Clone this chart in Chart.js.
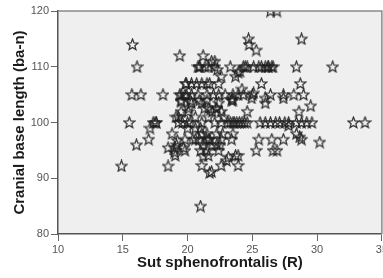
<!DOCTYPE html>
<html>
<head>
<meta charset="utf-8">
<script src="https://cdn.jsdelivr.net/npm/chart.js@4.4.1/dist/chart.umd.min.js"></script>
<style>
  html, body { margin: 0; padding: 0; background: #fff; overflow: hidden; }
  #wrap { width: 383px; height: 278px; overflow: hidden; }
</style>
</head>
<body>
<div id="wrap"><canvas id="Chart" width="390" height="278"></canvas></div>
<script>
// Sut sphenofrontalis (R) vs cranial base length (ba-n)
var sutR = [
  14.9, 15.75, 16.1, 15.7, 16.4, 15.5, 16.05, 17.0, 17.1, 17.35, 17.6, 17.5,
  18.1, 18.5, 18.8, 18.5, 19.0, 19.0, 19.05, 19.2, 19.7, 19.4, 21.2, 21.85, 22.1,
  21.0, 21.7, 21.85, 21.1, 22.6, 23.9, 23.0, 23.15, 23.7, 23.9, 21.6,
  24.7, 28.8, 24.75, 25.3, 26.4, 26.9, 31.2, 32.8, 33.7, 30.2, 29.5,
  28.95, 28.2, 27.4, 26.4, 25.1, 25.0, 27.4, 25.99, 24.95, 26.0,
  28.7, 25.7, 28.4, 28.6, 24.6, 28.4, 28.65, 28.8, 27.8, 27.4, 26.5, 25.5,
  25.3, 26.6, 26.9,
  24.2, 24.6, 25.6, 26.0, 26.4, 26.8, 27.1, 27.5, 27.8, 28.4, 28.8, 29.2, 29.6,
  24.3, 24.45, 24.6, 25.1, 25.5, 25.7, 26.0, 26.2, 26.5, 26.6, 26.25,
  24.2, 23.9, 24.05, 23.7, 22.6, 22.3, 23.3,
  20.8, 20.9, 20.95, 21.6, 22.1, 21.35,
  19.9, 20.3, 20.7, 21.1, 21.5, 21.7, 22.4, 19.85,
  19.4, 19.5, 19.8, 19.9, 20.3, 20.8, 21.5, 22.0, 22.4, 22.9, 23.5, 23.9, 24.3,
  19.5, 20.2, 20.9, 21.5, 23.4, 23.45, 23.5,
  20.3, 21.1, 22.4, 19.5,
  21.3, 22.25, 21.6, 22.2, 20.1,
  20.05, 21.9, 19.5, 22.6,
  20.6, 21.6, 22.8, 19.3, 19.1,
  20.0, 21.1, 22.1, 22.6, 23.1, 23.3, 23.5, 23.6, 23.8, 24.0, 24.4, 19.3, 19.6, 20.2,
  20.0, 20.6, 21.0,
  21.1, 21.5, 22.25, 22.7, 23.5,
  20.6, 21.7, 22.6, 23.4, 19.8, 20.4, 21.45, 21.6, 20.9,
  21.2, 21.9, 22.25, 19.15, 22.5,
  21.0, 22.4, 19.8, 21.5,
  21.2
];
var baN = [
  92.2, 114, 110, 105, 105, 100, 96, 97, 99, 100, 100, 100,
  105, 92.2, 98, 95.5, 95.5, 94.7, 94.1, 96.8, 95.5, 112, 112, 111, 111,
  85, 91, 91.2, 92.3, 92.3, 92.3, 93.2, 93.8, 94.1, 94.1, 94.1,
  115, 115, 114, 113, 120, 120, 110, 100, 100, 96.5, 103,
  105, 105, 105, 105, 105.3, 105, 104.4, 104.4, 104.4, 103.5,
  107, 107, 110, 102, 102, 98, 97.4, 97, 99.5, 97, 97, 97,
  95, 95, 95,
  100, 100, 100, 100, 100, 100, 100, 100, 100, 100, 100, 100, 100,
  110, 110, 110, 110, 110, 110, 110, 110, 110, 110, 110,
  106, 109, 109.2, 108.3, 108.3, 109.5, 110,
  110, 110, 110, 110, 110, 110,
  107, 107, 107, 107, 107, 107, 107, 107,
  105, 105, 105, 105, 105, 105, 105, 105, 105, 105, 105, 105, 105,
  104, 104, 104, 104, 104, 104.3, 104,
  103.5, 103.5, 103.5, 103.8,
  102.6, 102.6, 102.6, 102.6, 102.6,
  102, 102, 102, 102,
  101, 101, 101, 101, 101,
  100, 100, 100, 100, 100, 100, 100, 100, 100, 100, 100, 100, 100, 100,
  99, 99, 99,
  98, 98, 98, 98, 98,
  97, 97, 97, 97, 97, 97, 97, 97, 97,
  96, 96, 96, 96, 96,
  95, 95, 95, 95,
  94
];
var xTicks = [10, 15, 20, 25, 30, 35];
var yTicks = [80, 90, 100, 110, 120];

var pts = [];
for (var i = 0; i < sutR.length; i++) {
  pts.push({ x: sutR[i], y: baN[i] });
}

// outlined five point star marker
function makeStar() {
  var c = document.createElement("canvas");
  c.width = 13; c.height = 13;
  var g = c.getContext("2d");
  g.beginPath();
  for (var k = 0; k < 10; k++) {
    var r = k % 2 === 0 ? 5.8 : 2.5;
    var a = -Math.PI / 2 + k * Math.PI / 5;
    var px = 6.5 + r * Math.cos(a), py = 6.9 + r * Math.sin(a);
    if (k === 0) g.moveTo(px, py); else g.lineTo(px, py);
  }
  g.closePath();
  g.strokeStyle = "rgba(30,30,30,0.9)";
  g.lineWidth = 1.25;
  g.stroke();
  return c;
}

const framePlugin = {
  id: "frame",
  beforeDraw(chart) {
    const a = chart.chartArea, ctx = chart.ctx;
    ctx.save();
    ctx.fillStyle = "#efefef";
    ctx.fillRect(a.left, a.top, a.right - a.left, a.bottom - a.top);
    ctx.restore();
  },
  afterDraw(chart) {
    const a = chart.chartArea, ctx = chart.ctx;
    ctx.save();
    ctx.strokeStyle = "#8a8a8a";
    ctx.lineWidth = 1.5;
    ctx.beginPath();
    ctx.moveTo(a.left, a.top);
    ctx.lineTo(a.right, a.top);
    ctx.lineTo(a.right, a.bottom);
    ctx.stroke();
    ctx.restore();
  }
};

const ctx = document.getElementById("Chart").getContext("2d");
const myChart = new Chart(ctx, {
  type: "scatter",
  data: {
    datasets: [{
      data: pts,
      pointStyle: makeStar(),
      pointRadius: 6,
      pointHoverRadius: 6
    }]
  },
  options: {
    responsive: false,
    animation: false,
    layout: { padding: { top: 11, right: 8, left: 4, bottom: 0 } },
    plugins: { legend: { display: false }, tooltip: { enabled: false } },
    scales: {
      x: {
        type: "linear",
        min: 10, max: 35,
        afterBuildTicks: (s) => { s.ticks = xTicks.map(v => ({ value: v })); },
        afterFit: (s) => { s.height = 44; },
        ticks: { color: "#555", font: { family: "Liberation Sans", size: 11 }, padding: 2 },
        grid: { drawOnChartArea: false, tickLength: 7, color: "#666" },
        border: { color: "#555", width: 1.5 },
        title: {
          display: true, text: "Sut sphenofrontalis (R)", color: "#1a1a1a",
          font: { family: "Liberation Sans", size: 15, weight: "bold" },
          padding: { top: 0, bottom: 6 }
        }
      },
      y: {
        min: 80, max: 120,
        afterBuildTicks: (s) => { s.ticks = yTicks.map(v => ({ value: v })); },
        afterFit: (s) => { s.width = 54; },
        ticks: { color: "#555", font: { family: "Liberation Sans", size: 11 }, padding: 2 },
        grid: { drawOnChartArea: false, tickLength: 7, color: "#666" },
        border: { color: "#555", width: 1.5 },
        title: {
          display: true, text: "Cranial base length (ba-n)", color: "#1a1a1a",
          font: { family: "Liberation Sans", size: 15, weight: "bold" },
          padding: { top: 7, bottom: 0 }
        }
      }
    }
  },
  plugins: [framePlugin]
});
</script>
</body>
</html>
